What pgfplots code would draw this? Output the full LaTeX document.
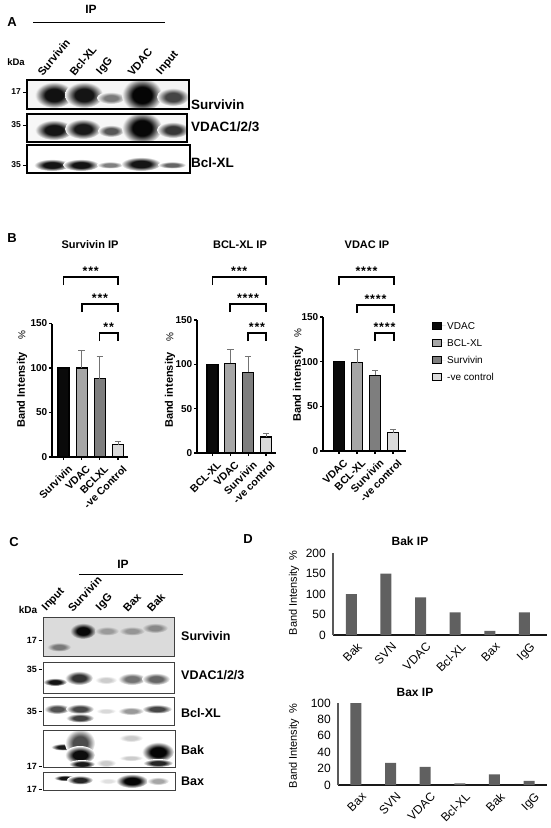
\documentclass[border=0pt]{standalone}
\usepackage{pgfplots}
\pgfplotsset{compat=1.18}
\usepackage{fontspec}
\setmainfont{Liberation Sans}
\setsansfont{Liberation Sans}
\newcommand\fs[1]{\fontsize{#1}{#1}\selectfont}
\definecolor{cK}{HTML}{0A0A0A}
\definecolor{cL}{HTML}{A6A6A6}
\definecolor{cM}{HTML}{7E7E7E}
\definecolor{cP}{HTML}{DADADA}
\definecolor{dBar}{HTML}{606060}
\pgfdeclareradialshading[bandc,bgc]{bandsh}{\pgfpoint{0bp}{0bp}}{color(0bp)=(bandc); color(12bp)=(bandc); color(25bp)=(bgc); color(50bp)=(bgc)}
\newcommand\band[6]{\colorlet{bgc}{#6}\colorlet{bandc}{black!#5!bgc}\shade[shading=bandsh] (#1,#2) ellipse ({#3} and {#4});}
\newcommand\stars[1]{\ifcase#1\or*\or*\kern0.8pt*\or*\kern0.8pt*\kern0.8pt*\or*\kern0.8pt*\kern0.8pt*\kern0.8pt*\fi}
\pgfplotsset{
  bstyle/.style={
    scale only axis, ymin=0, ymax=150, ytick={0,50,100,150},
    axis x line=bottom, axis y line=left, axis line style={-, line width=1.1pt, black},
    tick align=outside, major tick length=3pt, tick style={line width=1.1pt, black},
    xtick={0,1,2,3},
    x tick label style={xshift=4pt, yshift=-3pt, rotate=45, anchor=north east, font=\bfseries\fs{10.5}, inner sep=1pt},
    y tick label style={font=\bfseries\fs{10}, inner sep=1.5pt},
    clip=false,
    /pgf/number format/assume math mode=true,
  },
  bbar/.style={ybar, bar width=11pt, bar shift=0pt, fill=#1, draw=black, line width=1.1pt},
  berr/.style={error bars/.cd, y dir=plus, y explicit,
    error bar style={black!55, line width=1pt},
    error mark options={rotate=90, mark size=3.2pt, black!55, line width=1pt}},
  dstyle/.style={
    scale only axis, axis x line=bottom, axis y line=left, axis line style={-},
    x axis line style={black!90, line width=1.1pt},
    y axis line style={black!65, line width=1.1pt},
    major tick length=0pt, xtick={0,1,2,3,4,5}, ymin=0,
    x tick label style={xshift=5pt, yshift=-5pt, rotate=45, anchor=north east, font=\fs{12}, inner sep=1pt},
    y tick label style={font=\fs{12}, inner sep=1pt, xshift=-6pt},
    /pgf/number format/assume math mode=true, clip=false,
  },
}
\begin{document}
\begin{tikzpicture}
\path[use as bounding box] (0,0) rectangle (550pt,-828pt);
\begin{scope}[x=1pt,y=-1pt]
% ================= Panel A =================
\node[font=\bfseries\fs{13}, inner sep=0pt] at (12,22) {A};
\node[font=\bfseries\fs{12}, inner sep=0pt] at (91,9) {IP};
\draw[line width=1pt] (33,22) -- (165,22);
\node[font=\bfseries\fs{9.5}, inner sep=0pt] at (16,62) {kDa};
\foreach \xx/\tt in {43/Survivin, 75/Bcl-XL, 103/IgG, 133/VDAC, 163/Input}
  \node[font=\bfseries\fs{11}, rotate=50, anchor=south west, inner sep=0pt] at (\xx,77) {\tt};
\foreach \yy/\tt in {92/17, 125/35, 165/35}{
  \node[font=\bfseries\fs{8.5}, anchor=east, inner sep=0pt] at (21,\yy) {\tt};
  \draw[line width=0.8pt] (23,\yy) -- (27,\yy);}
% blot A1
\begin{scope}
\clip (27,80) rectangle (189,109);
\fill[black!4] (27,80) rectangle (189,109);
\band{54}{95}{19}{13}{93}{black!4}
\band{84}{95}{19}{13}{92}{black!4}
\band{111}{98}{14}{6}{50}{black!4}
\band{142}{95}{20}{17}{98}{black!4}
\band{173}{97}{16}{9}{72}{black!4}
\end{scope}
\draw[line width=1.2pt] (27,80) rectangle (189,109);
% blot A2
\begin{scope}
\clip (27,114) rectangle (187,142);
\fill[black!3] (27,114) rectangle (187,142);
\band{54}{130}{19}{10}{92}{black!3}
\band{83}{129}{18}{10}{90}{black!3}
\band{111}{131}{13}{6}{65}{black!3}
\band{142}{128}{20}{16}{97}{black!3}
\band{173}{130}{16}{8}{78}{black!3}
\end{scope}
\draw[line width=1.2pt] (27,114) rectangle (187,142);
% blot A3
\begin{scope}
\clip (27,145) rectangle (190,173);
\fill[white] (27,145) rectangle (190,173);
\band{52}{165}{18}{6}{92}{white}
\band{81}{165}{18}{6}{92}{white}
\band{110}{165}{13}{3.5}{50}{white}
\band{141}{164}{20}{7}{92}{white}
\band{172}{165}{14}{3.5}{60}{white}
\end{scope}
\draw[line width=1.2pt] (27,145) rectangle (190,173);
\node[font=\bfseries\fs{13.5}, anchor=west, inner sep=0pt] at (191,105) {Survivin};
\node[font=\bfseries\fs{13.5}, anchor=west, inner sep=0pt] at (191,127) {VDAC1/2/3};
\node[font=\bfseries\fs{13.5}, anchor=west, inner sep=0pt] at (191,163) {Bcl-XL};
% ================= Panel B =================
\node[font=\bfseries\fs{13}, inner sep=0pt] at (12,238) {B};
\node[font=\bfseries\fs{11}, inner sep=0pt] at (90,245) {Survivin IP};
\node[font=\bfseries\fs{11}, inner sep=0pt] at (240,245) {BCL-XL IP};
\node[font=\bfseries\fs{11}, inner sep=0pt] at (367,245) {VDAC IP};
% brackets
\foreach \xa/\xb/\yt/\ns in {63.5/118/277/3, 82/118/304/3, 99.5/118/333/2,
                             212.5/266/277/3, 230/266/304/4, 248/266/333/3,
                             339/394/277/4, 357/394/305/4, 375/394/333/4}{
  \draw[line width=1.1pt] (\xa,\yt+8) -- (\xa,\yt) -- (\xb,\yt) -- (\xb,\yt+8);
  \node[font=\bfseries\fs{12.5}, anchor=base, inner sep=0pt] at ({(\xa+\xb)/2},\yt-9+7) {\stars{\ns}};
}
\node[font=\bfseries\fs{11}, rotate=90, inner sep=0pt] at (22,390) {Band Intensity};
\node[font=\fs{10}, rotate=90, inner sep=0pt] at (22,335) {\%};
\node[font=\bfseries\fs{11}, rotate=90, inner sep=0pt] at (170,390) {Band intensity};
\node[font=\fs{10}, rotate=90, inner sep=0pt] at (170,337) {\%};
\node[font=\bfseries\fs{11}, rotate=90, inner sep=0pt] at (298,384) {Band intensity};
\node[font=\fs{10}, rotate=90, inner sep=0pt] at (298,333) {\%};
% ================= Panel C =================
\node[font=\bfseries\fs{13}, inner sep=0pt] at (14,542) {C};
\node[font=\bfseries\fs{12}, inner sep=0pt] at (123,564) {IP};
\draw[line width=1pt] (79,574) -- (183,574);
\node[font=\bfseries\fs{10}, inner sep=0pt] at (28,610) {kDa};
\foreach \xx/\tt in {48/Input, 73/Survivin, 102/IgG, 128/Bax, 152/Bak}
  \node[font=\bfseries\fs{11}, rotate=47, anchor=south west, inner sep=0pt] at (\xx,613) {\tt};
\foreach \yy/\tt in {640/17, 669/35, 711/35, 766/17, 789/17}{
  \node[font=\bfseries\fs{9}, anchor=east, inner sep=0pt] at (37,\yy) {\tt};
  \draw[line width=0.8pt] (38.5,\yy) -- (42,\yy);}
% C1
\begin{scope}
\clip (43,617) rectangle (174,656);
\fill[black!14] (43,617) rectangle (174,656);
\band{59}{647}{12}{4.5}{45}{black!14}
\band{83}{631}{13}{8}{97}{black!14}
\band{107}{631}{12}{4.5}{30}{black!14}
\band{132}{631}{13}{4.5}{32}{black!14}
\band{155}{628}{13}{5}{38}{black!14}
\end{scope}
\draw[line width=1pt, black!75] (43,617) rectangle (174,656);
% C2
\begin{scope}
\clip (43,662) rectangle (174,693);
\fill[white] (43,662) rectangle (174,693);
\band{55}{682}{12}{4}{92}{white}
\band{79}{678}{14}{7}{80}{white}
\band{106}{680}{11}{4}{20}{white}
\band{132}{679}{14}{6}{55}{white}
\band{156}{679}{14}{6}{60}{white}
\end{scope}
\draw[line width=1pt, black!75] (43,662) rectangle (174,693);
% C3
\begin{scope}
\clip (43,697) rectangle (174,725);
\fill[white] (43,697) rectangle (174,725);
\band{57}{709}{13}{5}{68}{white}
\band{80}{709}{14}{5}{72}{white}
\band{80}{718}{14}{4.5}{75}{white}
\band{106}{711}{10}{3}{15}{white}
\band{131}{711}{13}{4}{40}{white}
\band{157}{709}{15}{4.5}{72}{white}
\end{scope}
\draw[line width=1pt, black!75] (43,697) rectangle (174,725);
% C4
\begin{scope}
\clip (43,730) rectangle (175,767);
\fill[white] (43,730) rectangle (175,767);
\band{63}{747}{12}{3.5}{90}{white}
\band{80}{743}{15}{14}{70}{white}
\band{80}{755}{15}{9}{95}{white}
\band{82}{764}{13}{4}{90}{white}
\band{106}{763}{10}{4}{20}{white}
\band{131}{738}{12}{4}{20}{white}
\band{131}{758}{12}{3}{20}{white}
\band{158}{752}{16}{10}{98}{white}
\band{158}{763}{15}{4}{85}{white}
\end{scope}
\draw[line width=1pt, black!75] (43,730) rectangle (175,767);
% C5
\begin{scope}
\clip (43,772) rectangle (175,790);
\fill[white] (43,772) rectangle (175,790);
\band{65}{778}{11}{3}{92}{white}
\band{80}{780}{13}{4.5}{85}{white}
\band{108}{781}{9}{3}{12}{white}
\band{132}{781}{16}{7}{98}{white}
\band{158}{781}{11}{4}{35}{white}
\end{scope}
\draw[line width=1pt, black!75] (43,772) rectangle (175,790);
\node[font=\bfseries\fs{12.5}, anchor=west, inner sep=0pt] at (181,636) {Survivin};
\node[font=\bfseries\fs{12.5}, anchor=west, inner sep=0pt] at (181,675) {VDAC1/2/3};
\node[font=\bfseries\fs{12.5}, anchor=west, inner sep=0pt] at (181,713) {Bcl-XL};
\node[font=\bfseries\fs{12.5}, anchor=west, inner sep=0pt] at (181,750) {Bak};
\node[font=\bfseries\fs{12.5}, anchor=west, inner sep=0pt] at (181,781) {Bax};
% ================= Panel D =================
\node[font=\bfseries\fs{13}, inner sep=0pt] at (248,539) {D};
\node[font=\bfseries\fs{12}, inner sep=0pt] at (410,541) {Bak IP};
\node[font=\bfseries\fs{12}, inner sep=0pt] at (415,692) {Bax IP};
\node[font=\fs{11}, rotate=90, inner sep=0pt] at (294,593) {Band Intensity\hspace{5pt}\%};
\node[font=\fs{11}, rotate=90, inner sep=0pt] at (294,746) {Band Intensity\hspace{5pt}\%};
\end{scope}
% ---------- B1: Survivin IP ----------
\begin{axis}[bstyle, at={(52pt,-457pt)}, anchor=south west, width=76pt, height=133.5pt,
  xmin=-0.63, xmax=3.55, xticklabels={Survivin,VDAC,BCLXL,-ve Control}]
\addplot[bbar=cK] coordinates {(0,100)};
\addplot[bbar=cL, berr] coordinates {(1,100) +- (0,20)};
\addplot[bbar=cM, berr] coordinates {(2,88) +- (0,25)};
\addplot[bbar=cP, berr] coordinates {(3,14) +- (0,3)};
\end{axis}
% ---------- B2: BCL-XL IP ----------
\begin{axis}[bstyle, at={(197pt,-453pt)}, anchor=south west, width=79pt, height=133pt,
  xmin=-0.87, xmax=3.56, xticklabels={BCL-XL,VDAC,Survivin,-ve control}]
\addplot[bbar=cK] coordinates {(0,100)};
\addplot[bbar=cL, berr] coordinates {(1,101) +- (0,16)};
\addplot[bbar=cM, berr] coordinates {(2,91) +- (0,18)};
\addplot[bbar=cP, berr] coordinates {(3,18) +- (0,4.5)};
\end{axis}
% ---------- B3: VDAC IP ----------
\begin{axis}[bstyle, at={(323pt,-451pt)}, anchor=south west, width=83pt, height=134pt,
  xmin=-0.89, xmax=3.72, xticklabels={VDAC,BCL-XL,Survivin,-ve control},
  legend image code/.code={\draw[#1] (0pt,-3.5pt) rectangle (9pt,3.5pt); \path[draw=none] (9pt,0pt) -- (13pt,0pt);},
  legend style={draw=none, fill=none, at={(1.313,0.975)}, anchor=north west,
    font=\fs{10}, inner sep=0pt, row sep=6.6pt,
    nodes={inner sep=1.5pt, text height=7.5pt, text depth=0pt}},
  legend cell align=left]
\addplot[bbar=cK, forget plot] coordinates {(0,100)};
\addplot[bbar=cL, forget plot, berr] coordinates {(1,99) +- (0,15)};
\addplot[bbar=cM, forget plot, berr] coordinates {(2,85) +- (0,5)};
\addplot[bbar=cP, forget plot, berr] coordinates {(3,20.5) +- (0,4)};
\addlegendimage{fill=cK, draw=black, line width=1.1pt}
\addlegendentry{VDAC}
\addlegendimage{fill=cL, draw=black, line width=1.1pt}
\addlegendentry{BCL-XL}
\addlegendimage{fill=cM, draw=black, line width=1.1pt}
\addlegendentry{Survivin}
\addlegendimage{fill=cP, draw=black, line width=1.1pt}
\addlegendentry{-ve control}
\end{axis}
% ---------- D1: Bak IP ----------
\begin{axis}[dstyle, at={(333pt,-635pt)}, anchor=south west, width=214pt, height=82pt,
  xmin=-0.53, xmax=5.65, ymax=200, ytick={0,50,100,150,200},
  xticklabels={Bak,SVN,VDAC,Bcl-XL,Bax,IgG}]
\addplot[ybar, bar width=11pt, bar shift=0pt, fill=dBar, draw=none]
  coordinates {(0,100) (1,150) (2,92) (3,55) (4,10) (5,55)};
\end{axis}
% ---------- D2: Bax IP ----------
\begin{axis}[dstyle, at={(338pt,-785pt)}, anchor=south west, width=209pt, height=82pt,
  xmin=-0.52, xmax=5.52, ymax=100, ytick={0,20,40,60,80,100},
  xticklabels={Bax,SVN,VDAC,Bcl-XL,Bak,IgG}]
\addplot[ybar, bar width=11pt, bar shift=0pt, fill=dBar, draw=none]
  coordinates {(0,100) (1,27) (2,22) (3,2) (4,13) (5,5)};
\end{axis}
\end{tikzpicture}
\end{document}
